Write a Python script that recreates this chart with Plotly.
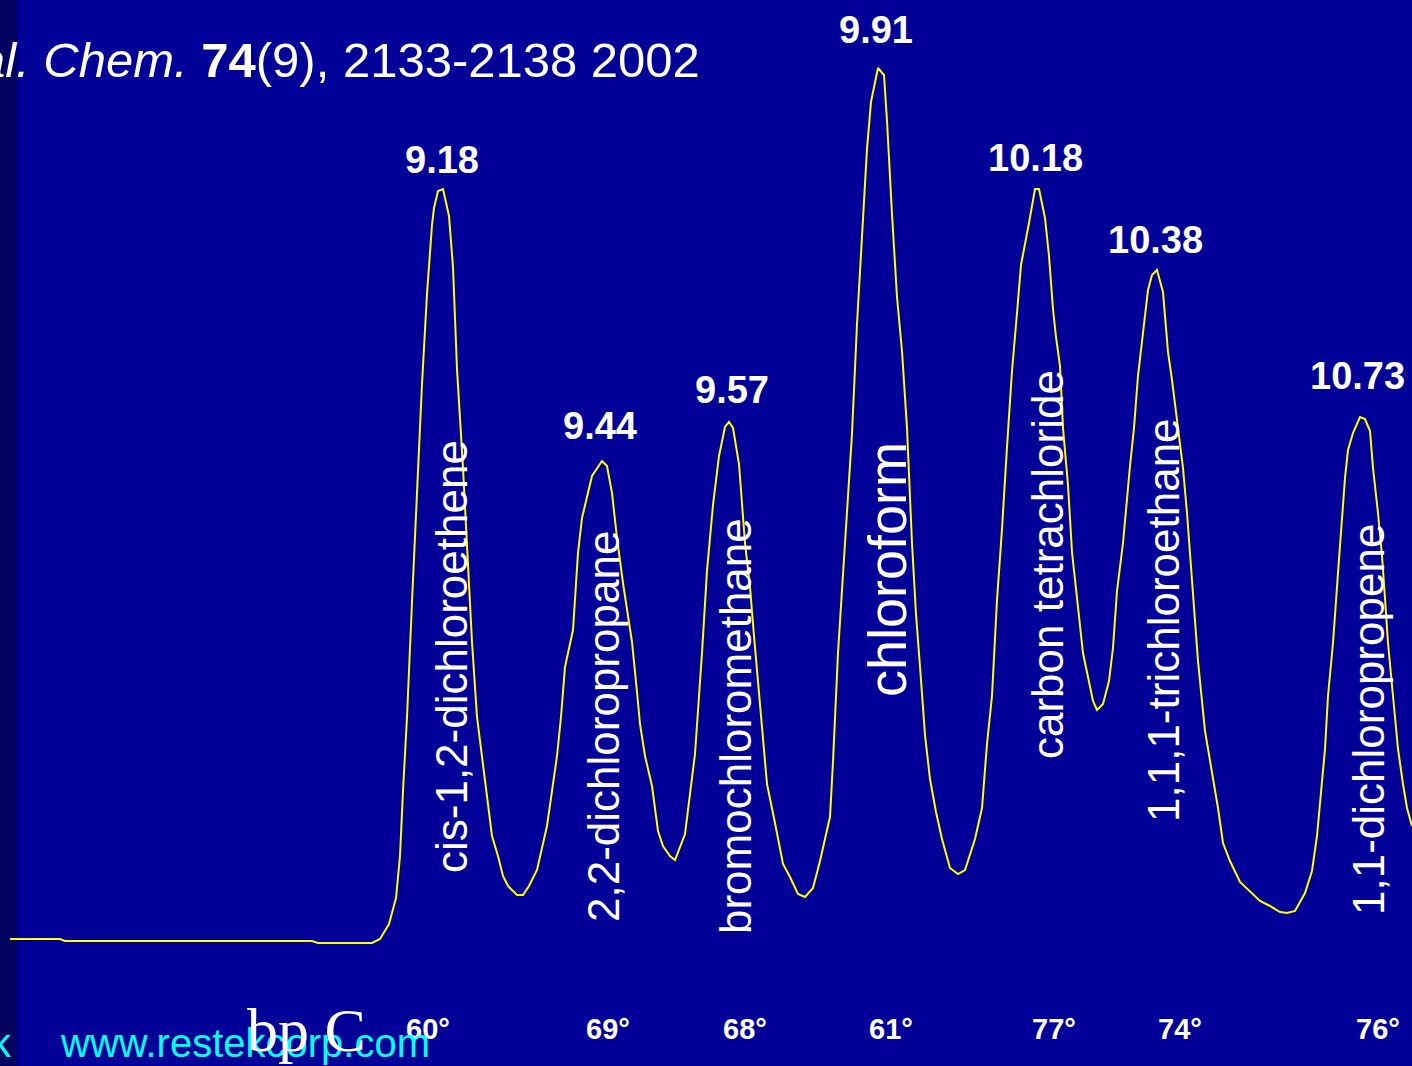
import plotly.graph_objects as go

# ---- data: chromatogram trace (retention index units, detector signal above baseline) ----
scan = [10, 60, 65, 312, 318, 372, 380, 389, 396, 400, 403, 407, 412, 417, 422, 427, 432, 434, 438, 443,
        449, 453, 457, 463, 467, 472, 477, 483, 487, 492, 498, 503, 508, 517, 523, 529, 537, 547, 552, 557,
        561, 565, 573, 575, 578, 582, 585, 592, 602, 607, 612, 617, 623, 632, 637, 640, 645, 652, 658, 663,
        670, 675, 685, 695, 702, 707, 713, 719, 725, 729, 733, 739, 745, 750, 754, 760, 767, 775, 783, 790,
        798, 805, 813, 820, 830, 833, 838, 845, 852, 857, 863, 867, 871, 878, 884, 887, 892, 897, 902, 907,
        912, 916, 921, 925, 930, 936, 942, 950, 958, 965, 975, 982, 987, 992, 997, 1002, 1007, 1012, 1017, 1021,
        1029, 1035, 1039, 1045, 1049, 1053, 1056, 1060, 1063, 1068, 1072, 1077, 1083, 1088, 1093, 1097, 1103, 1109, 1113, 1117,
        1123, 1130, 1134, 1138, 1143, 1148, 1152, 1157, 1163, 1168, 1172, 1178, 1183, 1187, 1193, 1198, 1205, 1212, 1218, 1223,
        1230, 1240, 1250, 1260, 1270, 1280, 1287, 1295, 1305, 1312, 1317, 1320, 1325, 1328, 1333, 1338, 1342, 1345, 1348, 1353,
        1360, 1365, 1370, 1373, 1378, 1382, 1385, 1388, 1393, 1398, 1403, 1407, 1412]
trace_px = [939, 939, 941, 941, 943, 943, 939, 924, 898, 856, 791, 717, 602, 493, 384, 294, 225, 208, 191, 189,
            216, 267, 369, 468, 543, 642, 717, 766, 801, 836, 856, 876, 886, 895, 895, 886, 870, 826, 791, 756,
            717, 667, 630, 602, 553, 518, 505, 476, 461, 466, 493, 538, 583, 642, 692, 724, 756, 786, 831, 846,
            856, 860, 834, 754, 653, 571, 505, 456, 427, 422, 428, 464, 543, 587, 636, 708, 784, 823, 864, 877,
            894, 897, 888, 861, 817, 762, 653, 543, 434, 324, 214, 149, 102, 68, 75, 121, 214, 297, 351, 428,
            543, 614, 680, 735, 779, 812, 839, 868, 874, 870, 839, 808, 744, 696, 600, 529, 447, 371, 313, 265,
            223, 189, 189, 218, 256, 309, 337, 366, 428, 485, 552, 600, 653, 677, 701, 710, 704, 681, 648, 591,
            543, 466, 428, 376, 333, 290, 275, 270, 292, 352, 380, 428, 468, 513, 591, 661, 731, 773, 808, 843,
            861, 882, 892, 901, 906, 912, 913, 911, 893, 871, 836, 801, 749, 696, 643, 573, 520, 478, 450, 433,
            417, 419, 431, 468, 513, 556, 598, 643, 696, 749, 784, 808, 826]
BASE = 943
signal = [BASE - v for v in trace_px]

# ---- peak annotations ----
retention_times = ["9.18", "9.44", "9.57", "9.91", "10.18", "10.38", "10.73"]
compounds = ["cis-1,2-dichloroethene", "2,2-dichloropropane", "bromochloromethane", "chloroform",
             "carbon tetrachloride", "1,1,1-trichloroethane", "1,1-dichloropropene"]
boiling_points = ["60°", "69°", "68°", "61°", "77°", "74°", "76°"]

# layout positions (pixels in the 1412x1066 canvas)
rt_pos = [(442, 160), (600, 426), (732, 390), (876, 30), (1035, 158), (1155, 240), (1357, 376)]
name_pos = [(451, 657), (603, 727), (735, 726), (887, 570), (1047, 565), (1163, 620), (1368, 720)]
name_size = [44, 44, 44, 54, 44, 44, 44]
bp_pos = [428, 608, 745, 891, 1054, 1180, 1378]

W, H = 1412, 1066
SANS = "Liberation Sans, Arial, Helvetica, sans-serif"
SERIF = "Liberation Serif, Times New Roman, serif"


def yp(py):
    return 1 - py / H


fig = go.Figure()
fig.add_trace(go.Scatter(x=scan, y=signal, mode="lines",
                         line=dict(color="#FFFF00", width=2), hoverinfo="skip", showlegend=False))

ann = []
for t, (px, py) in zip(retention_times, rt_pos):
    ann.append(dict(x=px, xref="x", y=yp(py), yref="paper", text="<b>" + t + "</b>", showarrow=False,
                    font=dict(family=SANS, size=38, color="white"), xanchor="center", yanchor="middle"))
for c, (px, py), s in zip(compounds, name_pos, name_size):
    ann.append(dict(x=px, xref="x", y=yp(py), yref="paper", text=c, textangle=-90, showarrow=False,
                    font=dict(family=SANS, size=s, color="white"), xanchor="center", yanchor="middle"))
for b, px in zip(boiling_points, bp_pos):
    ann.append(dict(x=px, xref="x", y=yp(1029), yref="paper", text="<b>" + b + "</b>", showarrow=False,
                    font=dict(family=SANS, size=29, color="white"), xanchor="center", yanchor="middle"))

# citation title (left part cut off by the slide edge)
ann.append(dict(x=702, xref="x", y=yp(60), yref="paper",
                text="<i>Anal. Chem.</i> <b>74</b>(9), 2133-2138 2002", showarrow=False,
                font=dict(family=SANS, size=49, color="white"), xanchor="right", yanchor="middle"))
# footer
ann.append(dict(x=58, xref="x", y=yp(1043), yref="paper", text="www.restekcorp.com", showarrow=False,
                font=dict(family=SANS, size=40, color="#00FFFF"), xanchor="left", yanchor="middle"))
ann.append(dict(x=1, xref="x", y=yp(1043), yref="paper", text="k", showarrow=False,
                font=dict(family=SANS, size=40, color="#00FFFF"), xanchor="center", yanchor="middle"))
ann.append(dict(x=306, xref="x", y=yp(1030), yref="paper", text="bp C", showarrow=False,
                font=dict(family=SERIF, size=62, color="white"), xanchor="center", yanchor="middle"))

fig.update_layout(
    width=W, height=H,
    margin=dict(l=0, r=0, t=0, b=0),
    paper_bgcolor="#000099", plot_bgcolor="#000099",
    xaxis=dict(range=[0, W], visible=False, fixedrange=True),
    yaxis=dict(range=[BASE - H, BASE], visible=False, fixedrange=True),
    annotations=ann,
    shapes=[dict(type="rect", xref="x", yref="paper", x0=0, x1=17, y0=0, y1=1,
                 fillcolor="#00005E", line=dict(width=0), layer="below")],
    showlegend=False,
)

fig.write_html("out.html", include_plotlyjs=True, config={"displayModeBar": False})
